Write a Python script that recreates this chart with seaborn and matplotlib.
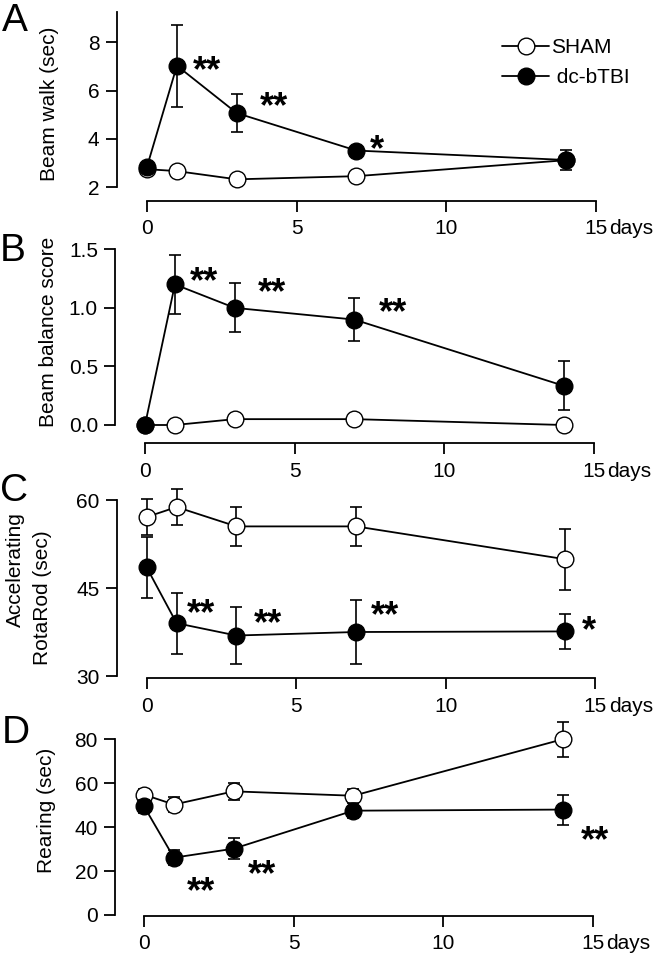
import numpy as np
import pandas as pd
import matplotlib
matplotlib.use('Agg')
import matplotlib.pyplot as plt
import seaborn as sns
from matplotlib.lines import Line2D

# datos (media +- SEM)
dias = [0, 1, 3, 7, 14]

walk_sham = [2.75, 2.67, 2.33, 2.46, 3.12]
walk_sham_err = [0.10, 0.10, 0.08, 0.10, 0.15]
walk_tbi = [2.85, 7.03, 5.07, 3.52, 3.13]
walk_tbi_err = [0.15, 1.70, 0.80, 0.15, 0.42]

balance_sham = [0.0, 0.0, 0.05, 0.05, 0.0]
balance_sham_err = [0.0, 0.0, 0.04, 0.04, 0.0]
balance_tbi = [0.0, 1.20, 1.00, 0.90, 0.335]
balance_tbi_err = [0.0, 0.25, 0.21, 0.18, 0.21]

rotarod_sham = [57.1, 58.8, 55.5, 55.5, 49.9]
rotarod_sham_err = [3.1, 3.0, 3.3, 3.3, 5.2]
rotarod_tbi = [48.5, 39.0, 36.9, 37.5, 37.6]
rotarod_tbi_err = [5.2, 5.2, 4.9, 5.4, 3.05]

rearing_sham = [54.8, 50.3, 56.3, 54.3, 80.0]
rearing_sham_err = [2.5, 3.5, 3.8, 3.0, 8.0]
rearing_tbi = [49.5, 26.1, 30.2, 47.5, 48.0]
rearing_tbi_err = [3.0, 3.5, 4.7, 3.5, 6.8]

# asteriscos de significancia (x, y, texto)
stars_walk = [(2.0, 7.26, '**'), (4.25, 5.78, '**'), (7.7, 3.97, '*')]
stars_balance = [(1.96, 1.31, '**'), (4.26, 1.22, '**'), (8.3, 1.05, '**')]
stars_rotarod = [(1.8, 42.4, '**'), (4.06, 40.7, '**'), (7.97, 42.1, '**'), (14.8, 39.55, '*')]
stars_rearing = [(1.89, 15.3, '**'), (3.93, 22.9, '**'), (15.07, 38.8, '**')]

sns.set_theme(style='ticks')
plt.rcParams['font.family'] = ['Liberation Sans', 'DejaVu Sans']
plt.rcParams['text.color'] = 'black'

W, H = 662, 957
PX = 29.9  # pixeles por dia
FS = 15

fig = plt.figure(figsize=(W / 100, H / 100), dpi=100)


def dibujar_grupo(ax, y, err, relleno, z):
    eb = ax.errorbar(dias, y, yerr=err, fmt='none', ecolor='black', elinewidth=1.2,
                     capsize=4.3, capthick=1.2, zorder=z - 0.5)
    for a in list(eb.lines[1]) + list(eb.lines[2]):
        a.set_clip_on(False)
    sns.lineplot(x=dias, y=y, ax=ax, color='black', marker='o', markersize=12,
                 markerfacecolor=relleno, markeredgecolor='black', markeredgewidth=1.0,
                 linewidth=1.3, errorbar=None, clip_on=False, zorder=z)


def hacer_panel(sham, sham_err, tbi, tbi_err, stars, spine, x0, top, bottom, ylim, yticks,
                offset, fmt='{:g}'):
    xmin = (spine - x0) / PX
    xmax = 15.5
    ax = fig.add_axes([spine / W, 1 - bottom / H, (xmax - xmin) * PX / W, (bottom - top) / H])
    dibujar_grupo(ax, sham, sham_err, 'white', 3)
    dibujar_grupo(ax, tbi, tbi_err, 'black', 4)
    for x, y, t in stars:
        ax.annotate(t, xy=(x, y), xytext=(0, -0.58 * 26), textcoords='offset points',
                    ha='center', va='baseline', fontsize=26, fontweight='bold', color='black')
    ax.set_xlim(xmin, xmax)
    ax.set_ylim(*ylim)
    ax.set_xticks([0, 5, 10, 15])
    ax.set_yticks(yticks)
    ax.set_yticklabels([fmt.format(v) for v in yticks])
    sns.despine(ax=ax)
    ax.spines['bottom'].set_position(('outward', offset * 0.72))
    ax.spines['bottom'].set_bounds(0, 15)
    for s in ['left', 'bottom']:
        ax.spines[s].set_linewidth(1.3)
        ax.spines[s].set_color('black')
    ax.tick_params(direction='out', length=8, width=1.3, labelsize=FS, colors='black')
    ax.tick_params(axis='y', pad=4.3)
    ax.tick_params(axis='x', pad=5.3)
    ax.set_xlabel('')
    ax.set_ylabel('')
    ax.annotate('days', xy=(15, 0), xycoords=('data', 'axes fraction'),
                xytext=(10, -(offset * 0.72 + 8 + 5.3)), textcoords='offset points',
                ha='left', va='top', fontsize=FS, color='black')
    return ax


hacer_panel(walk_sham, walk_sham_err, walk_tbi, walk_tbi_err, stars_walk,
            116.7, 147, 12, 187.3, (2, 9.25), [2, 4, 6, 8], 13.4)
hacer_panel(balance_sham, balance_sham_err, balance_tbi, balance_tbi_err, stars_balance,
            115, 145, 249.3, 425, (0, 1.5), [0, 0.5, 1.0, 1.5], 18.3, '{:.1f}')
hacer_panel(rotarod_sham, rotarod_sham_err, rotarod_tbi, rotarod_tbi_err, stars_rotarod,
            116.7, 146.7, 500, 676, (30, 60), [30, 45, 60], 2.3)
hacer_panel(rearing_sham, rearing_sham_err, rearing_tbi, rearing_tbi_err, stars_rearing,
            115, 144, 739.3, 915, (0, 80), [0, 20, 40, 60, 80], 1)

# etiquetas de eje y
ylabels = [('Beam walk (sec)', 50, 103.5), ('Beam balance score', 48.5, 332),
           ('Accelerating', 15, 570), ('RotaRod (sec)', 42, 598), ('Rearing (sec)', 46, 810)]
for t, x, y in ylabels:
    fig.text(x / W, 1 - y / H, t, rotation=90, ha='center', va='center', fontsize=FS)

# letras de panel
for t, x, y in [('A', 2, 3), ('B', 0, 233), ('C', 0, 473), ('D', 2, 715)]:
    fig.text(x / W, 1 - y / H, t, ha='left', va='top', fontsize=28)

# leyenda
handles = [Line2D([], [], color='black', marker='o', markersize=12, markerfacecolor='white',
                  markeredgecolor='black', lw=1.3),
           Line2D([], [], color='black', marker='o', markersize=12, markerfacecolor='black',
                  markeredgecolor='black', lw=1.3)]
fig.legend(handles, ['SHAM', ' dc-bTBI'], loc='upper left', bbox_to_anchor=(502 / W, 1 - 38 / H),
           frameon=False, handlelength=2.26, handletextpad=0.1, labelspacing=0.55,
           borderpad=0, borderaxespad=0, fontsize=FS)

plt.savefig('out.png', dpi=100)
plt.close()
